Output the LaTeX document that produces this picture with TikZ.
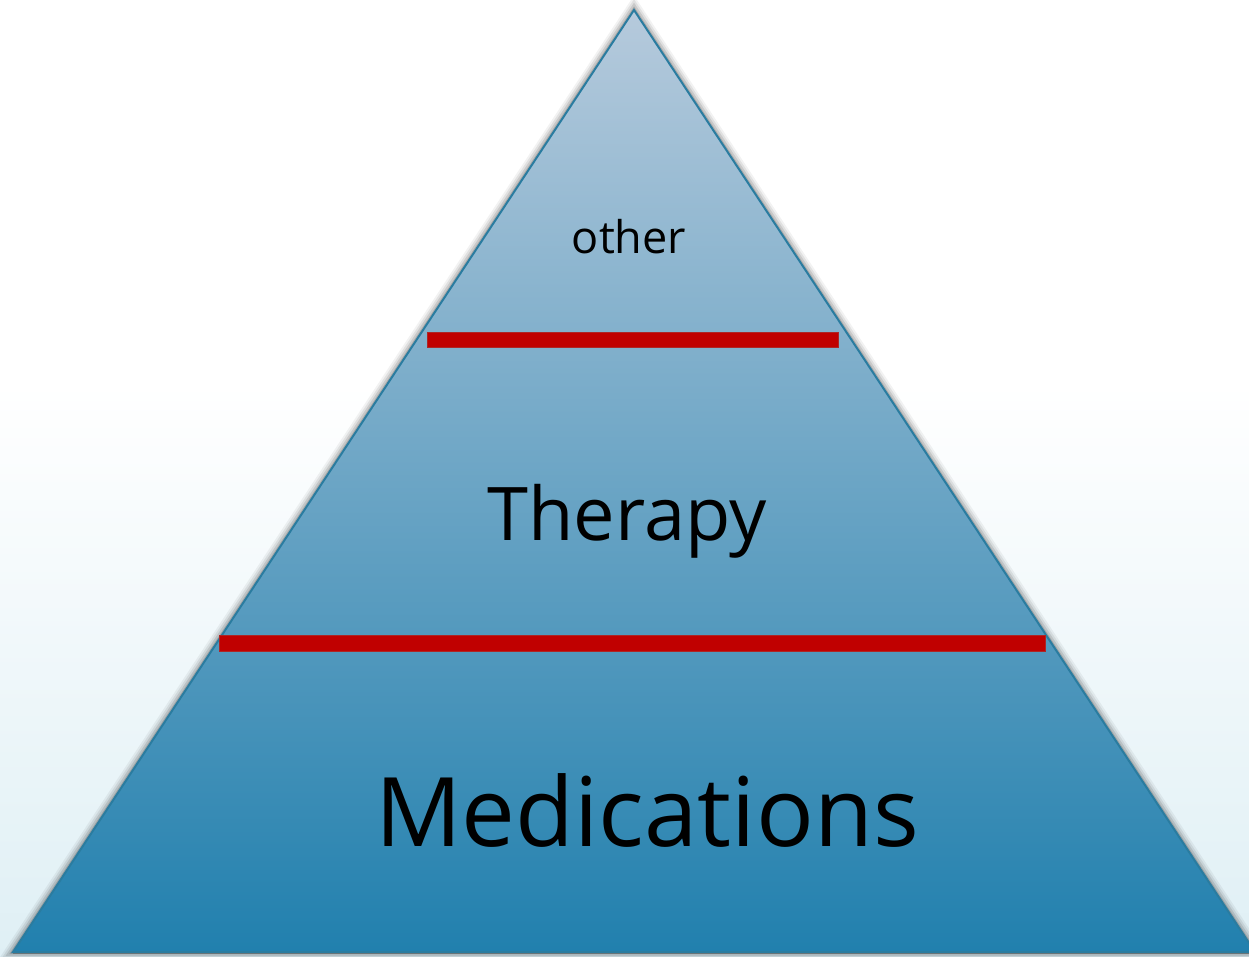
\documentclass[tikz,border=0pt]{standalone}
\usepackage{fontspec}
\setmainfont{Open Sans}
\definecolor{bgbot}{HTML}{C4E2EC}
\definecolor{pyrtop}{HTML}{B6CADC}
\definecolor{pyrmid}{HTML}{80AECC}
\definecolor{pyrbot}{HTML}{2180AE}
\definecolor{edge}{HTML}{2A7CA0}
\definecolor{barred}{HTML}{C00000}
\pgfdeclareverticalshading{backdrop}{100bp}{color(0bp)=(bgbot); color(30bp)=(bgbot!45!white); color(55bp)=(white); color(100bp)=(white)}
\tikzset{
  halo/.style={draw=black, line join=miter, opacity=#1},
  divider/.style={fill=barred, draw=barred!70!gray, line width=0.8pt},
  label/.style={text=black, inner sep=0pt, anchor=base}
}
\begin{document}
\begin{tikzpicture}[x=1pt,y=-1pt]
\useasboundingbox (0,0) rectangle (1249,956);
% backdrop
\shade[shading=backdrop] (0,0) rectangle (1249,956);
% pyramid corners
\coordinate (apex) at (634,10);
\coordinate (bl) at (13,952);
\coordinate (br) at (1255,952);
% soft shadow around the pyramid
\foreach \w/\o in {16/0.05, 12/0.07, 8/0.10, 4/0.15}
  \draw[halo=\o, line width=\w pt] (apex) -- (bl) -- (br) -- cycle;
\draw[black!55, line width=3pt] (bl) -- (br);
% pyramid body
\shade[top color=pyrtop, middle color=pyrmid, bottom color=pyrbot] (apex) -- (bl) -- (br) -- cycle;
\draw[edge, line width=2pt, line join=miter] (apex) -- (bl) -- (br) -- cycle;
% level dividers
\draw[divider] (427,332) rectangle (838,347);
\draw[divider] (219,635) rectangle (1045,651);
% level labels
\node[label, font=\fontsize{45}{45}\selectfont] (other) at (629,253) {other};
\node[label, font=\fontsize{74}{74}\selectfont] (therapy) at (627,540) {Therapy};
\node[label, font=\fontsize{96}{96}\selectfont] (meds) at (647,846) {Medications};
\end{tikzpicture}
\end{document}
